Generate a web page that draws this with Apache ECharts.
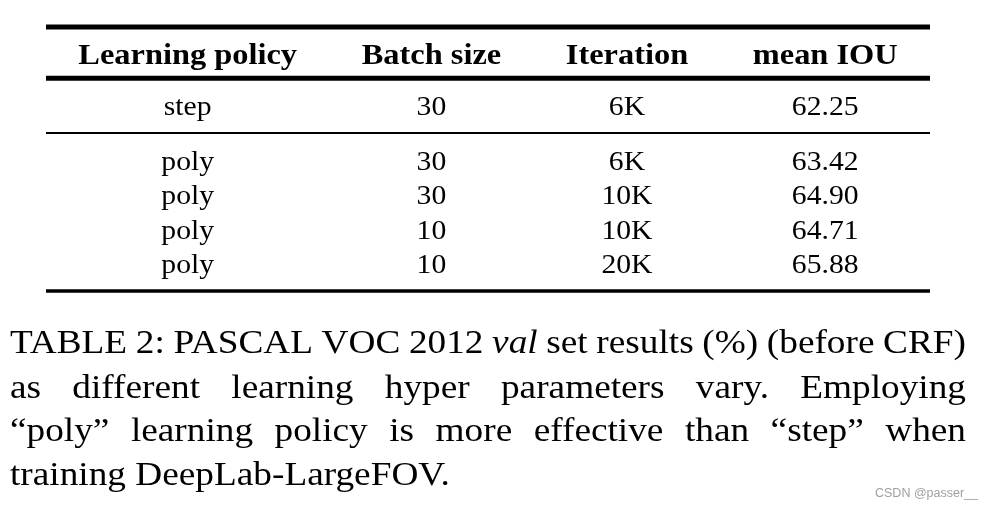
<!DOCTYPE html>
<html>
<head>
<meta charset="utf-8">
<script src="https://cdn.jsdelivr.net/npm/echarts@6/dist/echarts.min.js"></script>
<style>
  html, body { margin: 0; padding: 0; background: #fff; }
  #main { width: 993px; height: 508px; }
</style>
</head>
<body>
<div id="main"></div>
<script>
// table content
const headers = ['Learning policy', 'Batch size', 'Iteration', 'mean IOU'];
const policy = ['step', 'poly', 'poly', 'poly', 'poly'];
const batchSize = ['30', '30', '30', '10', '10'];
const iteration = ['6K', '6K', '10K', '10K', '20K'];
const meanIOU = ['62.25', '63.42', '64.90', '64.71', '65.88'];
// how many rows sit between each pair of rules
const groups = [1, 4];

// caption, _word_ = italic
const captionLines = [
  'TABLE 2: PASCAL VOC 2012 _val_ set results (%) (before CRF)',
  'as different learning hyper parameters vary. Employing',
  '\u201Cpoly\u201D learning policy is more effective than \u201Cstep\u201D when',
  'training DeepLab-LargeFOV.'
];
const watermark = 'CSDN @passer__';

const serif = '"Liberation Serif", "Times New Roman", serif';
const headFont = 'bold 30px ' + serif;
const bodyFont = '28px ' + serif;
const capFont = '33px ' + serif;
const headScale = 1.08;
const bodyScale = 1.06;
const capScale = 1.13;
const textShift = 2; // px, nudges cell text down to sit like the reference

const gridLeft = 46, gridRight = 63, gridTop = 27, gridBottom = 217;
const gridW = 993 - gridLeft - gridRight;

const chart = echarts.init(document.getElementById('main'));
const mctx = document.createElement('canvas').getContext('2d');
function textWidth(str, font) {
  mctx.font = font;
  return mctx.measureText(str).width;
}

// column centers (0..1) from header widths, like tabular with equal padding
const headW = headers.map((h) => textWidth(h, headFont) * headScale);
const sep = (gridW - headW.reduce((a, b) => a + b, 0)) / (headers.length * 2);
const colCenter = [];
let acc = 0;
headW.forEach((w) => {
  colCenter.push((acc + sep + w / 2) / gridW);
  acc += w + sep * 2;
});

// vertical layout in row units
const pad = 0.8;
const headPadBelow = 0.69;
const rules = [{ y: 0, w: 5 }];
const cells = [];
let pos = pad;
headers.forEach((h, c) => cells.push({ x: colCenter[c], y: pos, text: h, head: true }));
pos += headPadBelow;
rules.push({ y: pos, w: 5 });
const columns = [policy, batchSize, iteration, meanIOU];
let r = 0;
groups.forEach((n, gi) => {
  pos += pad;
  for (let k = 0; k < n; k++) {
    if (k > 0) pos += 1;
    columns.forEach((col, c) => cells.push({ x: colCenter[c], y: pos, text: col[r], head: false }));
    r++;
  }
  pos += pad;
  rules.push({ y: pos, w: gi === groups.length - 1 ? 3.5 : 2 });
});
const yMax = pos;

// caption words, justified except last line
const capLeft = 10, capRight = 966;
const capBase = [355, 400, 443, 487];
const capCapHeight = 22;
const capElements = [];
captionLines.forEach((line, li) => {
  const words = line.split(' ').map((w) => {
    const italic = /^_.*_$/.test(w);
    const t = italic ? w.slice(1, -1) : w;
    const font = (italic ? 'italic ' : '') + capFont;
    return { t, font, w: textWidth(t, font) * capScale };
  });
  const sum = words.reduce((a, b) => a + b.w, 0);
  const last = li === captionLines.length - 1;
  const gap = last ? textWidth(' ', capFont) * capScale : (capRight - capLeft - sum) / (words.length - 1);
  let x = capLeft;
  words.forEach((wd) => {
    capElements.push({
      type: 'text',
      x: x,
      y: capBase[li] - capCapHeight / 2,
      scaleX: capScale,
      style: { text: wd.t, font: wd.font, fill: '#000', align: 'left', verticalAlign: 'middle' }
    });
    x += wd.w + gap;
  });
});
capElements.push({
  type: 'text',
  right: 15,
  top: 487,
  style: { text: watermark, font: '12.5px "Liberation Sans", Arial, sans-serif', fill: '#a0a0a0' }
});

const option = {
  animation: false,
  backgroundColor: '#fff',
  grid: { left: gridLeft, right: gridRight, top: gridTop, bottom: gridBottom },
  xAxis: { type: 'value', min: 0, max: 1, show: false },
  yAxis: { type: 'value', min: 0, max: yMax, inverse: true, show: false },
  series: [
    {
      type: 'custom',
      data: rules.map((d) => [0, d.y]),
      renderItem: (params, api) => {
        const d = rules[params.dataIndex];
        const p1 = api.coord([0, d.y]);
        const p2 = api.coord([1, d.y]);
        return {
          type: 'line',
          shape: { x1: p1[0], y1: p1[1], x2: p2[0], y2: p2[1] },
          style: { stroke: '#000', lineWidth: d.w }
        };
      }
    },
    {
      type: 'custom',
      data: cells.map((d) => [d.x, d.y]),
      renderItem: (params, api) => {
        const d = cells[params.dataIndex];
        const p = api.coord([d.x, d.y]);
        return {
          type: 'text',
          x: p[0],
          y: p[1] + textShift,
          scaleX: d.head ? headScale : bodyScale,
          style: {
            text: d.text,
            font: d.head ? headFont : bodyFont,
            fill: '#000',
            align: 'center',
            verticalAlign: 'middle'
          }
        };
      }
    }
  ],
  graphic: capElements
};
chart.setOption(option);
</script>
</body>
</html>
